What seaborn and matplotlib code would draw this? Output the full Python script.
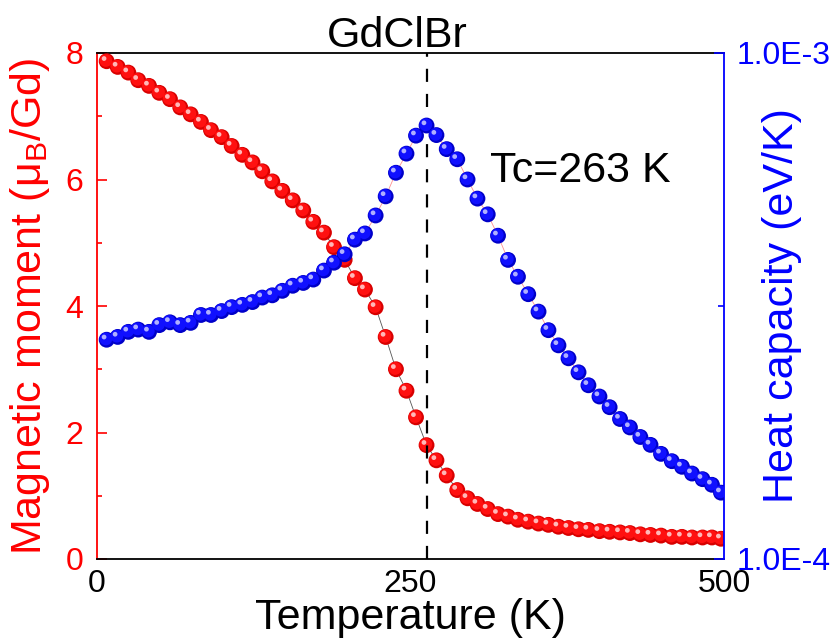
import numpy as np
import pandas as pd
import matplotlib
matplotlib.use("Agg")
import matplotlib.pyplot as plt
import matplotlib.transforms as mtransforms
from matplotlib.ticker import FixedLocator
import seaborn as sns

sns.set_style("white")
plt.rcParams['font.family'] = ['Liberation Sans', 'DejaVu Sans']
plt.rcParams['mathtext.fontset'] = 'custom'
plt.rcParams['mathtext.rm'] = 'Liberation Sans'
plt.rcParams['mathtext.it'] = 'Liberation Sans'
plt.rcParams['text.color'] = 'black'
plt.rcParams['axes.labelcolor'] = 'black'
plt.rcParams['xtick.color'] = 'black'
plt.rcParams['ytick.color'] = 'black'

# ---------------- data ----------------
temperature = [7.7, 16.5, 25.0, 32.9, 41.5, 49.7, 58.2, 66.4, 74.7, 82.9,
               90.9, 99.4, 107.4, 115.9, 124.0, 131.8, 139.8, 147.8, 156.1, 164.5,
               172.5, 181.0, 189.0, 197.5, 205.7, 213.7, 222.2, 230.2, 238.4, 246.8,
               254.4, 262.8, 270.7, 278.9, 287.3, 295.5, 303.4, 311.6, 319.8, 327.8,
               335.7, 343.9, 352.1, 360.0, 368.0, 376.0, 384.0, 391.9, 400.7, 408.8,
               417.1, 425.0, 433.3, 441.4, 449.8, 458.4, 466.5, 474.5, 482.9, 490.4, 497.6]

moment = [7.87, 7.78, 7.69, 7.57, 7.48, 7.37, 7.27, 7.14, 7.03, 6.91,
          6.78, 6.67, 6.53, 6.39, 6.27, 6.13, 5.97, 5.82, 5.67, 5.51,
          5.33, 5.16, 4.93, 4.73, 4.44, 4.26, 3.98, 3.51, 3.00, 2.66,
          2.24, 1.80, 1.56, 1.32, 1.09, 0.96, 0.87, 0.79, 0.71, 0.67,
          0.62, 0.59, 0.56, 0.54, 0.51, 0.49, 0.47, 0.46, 0.44, 0.43,
          0.42, 0.41, 0.39, 0.38, 0.37, 0.35, 0.35, 0.34, 0.34, 0.34, 0.32]

# heat capacity in units of 1e-4 eV/K
heat_capacity_e4 = [4.90, 4.95, 5.04, 5.08, 5.04, 5.16, 5.21, 5.16, 5.20, 5.34,
                    5.34, 5.41, 5.48, 5.52, 5.57, 5.65, 5.69, 5.77, 5.86, 5.91,
                    5.97, 6.13, 6.27, 6.42, 6.68, 6.79, 7.11, 7.45, 7.87, 8.21,
                    8.53, 8.71, 8.54, 8.29, 8.11, 7.75, 7.41, 7.13, 6.75, 6.32,
                    6.02, 5.71, 5.40, 5.07, 4.80, 4.57, 4.32, 4.09, 3.89, 3.70,
                    3.49, 3.34, 3.17, 3.03, 2.87, 2.74, 2.64, 2.52, 2.42, 2.32, 2.18]

Tc = 263
title = "GdClBr"
tc_label = "Tc=263 K"
x_ticks = [0, 250, 500]
left_ticks = [0, 2, 4, 6, 8]
right_ticks = [1.0e-4, 1.0e-3]
right_tick_labels = ["1.0E-4", "1.0E-3"]

df = pd.DataFrame({"T": temperature, "M": moment,
                   "C": np.array(heat_capacity_e4) * 1e-4})

RED = "#ff0000"
BLUE = "#0000ff"

W, H = 839, 644
fig = plt.figure(figsize=(W / 100, H / 100), dpi=100)
L, R, B, Tp = 97, 724, 559, 53
ax = fig.add_axes([L / W, 1 - B / H, (R - L) / W, (B - Tp) / H])
ax2 = ax.twinx()

S = 130


def balls(axis, col, dark, mid, light, zbase):
    # thin connecting line
    sns.lineplot(data=df, x="T", y=col, ax=axis, sort=False,
                 color="#555555" if col == "M" else "#ff9090",
                 lw=0.6, zorder=zbase, legend=False)
    sns.scatterplot(data=df, x="T", y=col, ax=axis, color=dark, s=S,
                    edgecolor="none", linewidth=0, zorder=zbase + 1, legend=False)
    tr1 = mtransforms.offset_copy(axis.transData, fig=fig, x=-0.8, y=0.8, units='dots')
    sns.scatterplot(data=df, x="T", y=col, ax=axis, color=mid, s=S * 0.66,
                    edgecolor="none", linewidth=0, zorder=zbase + 2, legend=False,
                    transform=tr1)
    tr2 = mtransforms.offset_copy(axis.transData, fig=fig, x=-2.6, y=2.7, units='dots')
    sns.scatterplot(data=df, x="T", y=col, ax=axis, color=light, s=S * 0.09,
                    edgecolor="none", linewidth=0, zorder=zbase + 3, legend=False,
                    transform=tr2)


balls(ax, "M", "#d80000", "#ff1010", "#ffb8b8", 2)
ax.axvline(Tc, color="black", lw=1.6, ls=(0, (5.9, 5.4)), zorder=6)
balls(ax2, "C", "#0000c8", "#1010ff", "#b0b0ff", 2)

# axes limits / ticks
ax.set_xlim(0, 500)
ax.set_ylim(0, 8)
ax2.set_ylim(1e-4, 1e-3)

ax.xaxis.set_major_locator(FixedLocator(x_ticks))
ax.xaxis.set_minor_locator(FixedLocator([125, 375]))
ax.yaxis.set_major_locator(FixedLocator(left_ticks))
ax.yaxis.set_minor_locator(FixedLocator([1, 3, 5, 7]))
ax.set_xticklabels([str(v) for v in x_ticks])
ax.set_yticklabels([str(v) for v in left_ticks])
ax2.yaxis.set_major_locator(FixedLocator(right_ticks))
ax2.set_yticklabels(right_tick_labels)
ax2.yaxis.set_minor_locator(FixedLocator([5.5e-4]))

ax.tick_params(axis="x", which="both", direction="in", colors="black",
               labelcolor="black", labelsize=23, pad=7, top=False, width=1.2)
ax.tick_params(axis="x", which="major", length=7)
ax.tick_params(axis="x", which="minor", length=3.5)
ax.tick_params(axis="y", which="both", direction="in", colors=RED,
               labelsize=23, pad=10, width=1.2, left=True, right=False)
ax.tick_params(axis="y", which="major", length=7)
ax.tick_params(axis="y", which="minor", length=3.5)
ax2.tick_params(axis="y", which="both", direction="in", colors=BLUE,
                labelsize=23, pad=9, width=1.2)
ax2.tick_params(axis="y", which="major", length=7)
ax2.tick_params(axis="y", which="minor", length=4)

for sp in ["top", "bottom"]:
    ax.spines[sp].set_color("black")
    ax.spines[sp].set_linewidth(1.3)
ax.spines["left"].set_color(RED)
ax.spines["left"].set_linewidth(1.3)
ax.spines["right"].set_visible(False)
for sp in ["top", "bottom", "left"]:
    ax2.spines[sp].set_visible(False)
ax2.spines["right"].set_color(BLUE)
ax2.spines["right"].set_linewidth(1.3)

ax.set_xlabel("Temperature (K)", fontsize=31, color="black")
ax.xaxis.set_label_coords(0.5, -0.078)
ax.set_ylabel(r"Magnetic moment ($\mathregular{\mu_B}$/Gd)", fontsize=31, color=RED)
ax.yaxis.set_label_coords(-0.072, 0.5)
ax2.set_ylabel("Heat capacity (eV/K)", fontsize=31, color=BLUE)
ax2.yaxis.set_label_coords(1.06, 0.5)

fig.text(397 / W, 1 - 47 / H, title, fontsize=31, color="black",
         ha="center", va="baseline")
fig.text(490 / W, 1 - 182 / H, tc_label, fontsize=31, color="black",
         ha="left", va="baseline")

fig.savefig("out.png", dpi=100, facecolor="white")
